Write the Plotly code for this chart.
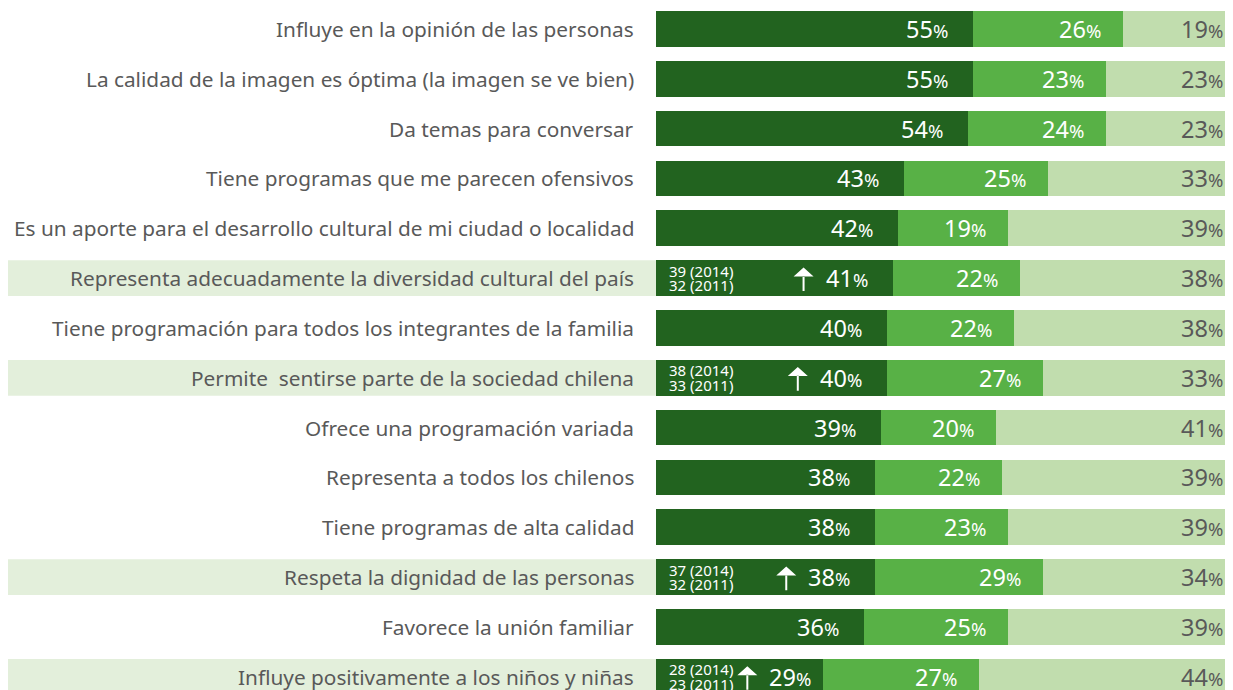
import plotly.graph_objects as go

labels = [
    "Influye en la opinión de las personas",
    "La calidad de la imagen es óptima (la imagen se ve bien)",
    "Da temas para conversar",
    "Tiene programas que me parecen ofensivos",
    "Es un aporte para el desarrollo cultural de mi ciudad o localidad",
    "Representa adecuadamente la diversidad cultural del país",
    "Tiene programación para todos los integrantes de la familia",
    "Permite  sentirse parte de la sociedad chilena",
    "Ofrece una programación variada",
    "Representa a todos los chilenos",
    "Tiene programas de alta calidad",
    "Respeta la dignidad de las personas",
    "Favorece la unión familiar",
    "Influye positivamente a los niños y niñas",
]
dark = [55, 55, 54, 43, 42, 41, 40, 40, 39, 38, 38, 38, 36, 29]
mid = [26, 23, 24, 25, 19, 22, 22, 27, 20, 22, 23, 29, 25, 27]
light = [19, 23, 23, 33, 39, 38, 38, 33, 41, 39, 39, 34, 39, 44]
prev_2014 = [None, None, None, None, None, 39, None, 38, None, None, None, 37, None, 28]
prev_2011 = [None, None, None, None, None, 32, None, 33, None, None, None, 32, None, 23]

C_DARK = "#22631f"
C_MID = "#58b146"
C_LIGHT = "#c1ddae"
C_BAND = "#e3efdb"
C_TEXT = "#595959"
FONT = "Noto Sans"

rows = list(range(len(labels)))
# light segment fills the rest of the row
rest = [100 - d - m for d, m in zip(dark, mid)]

fig = go.Figure()
for vals, col in [(dark, C_DARK), (mid, C_MID), (rest, C_LIGHT)]:
    fig.add_trace(go.Bar(y=rows, x=vals, orientation="h", marker=dict(color=col, line_width=0),
                         width=0.716, hoverinfo="skip", showlegend=False))


def pct(v):
    return f"{v}<span style='font-size:18.5px'>%</span>"


ann = []
shapes = []
for i in rows:
    d, m, l = dark[i], mid[i], light[i]
    # category label, left of the bars
    ann.append(dict(xref="paper", x=0, y=i, text=labels[i], xanchor="right", xshift=-20, showarrow=False,
                    font=dict(color=C_TEXT, size=20.8, family=FONT)))
    pad = 23 if d >= 35 else 10
    ann.append(dict(x=d, y=i, text=pct(d), xanchor="right", xshift=-pad, showarrow=False,
                    font=dict(color="white", size=23.5, family=FONT)))
    ann.append(dict(x=d + m, y=i, text=pct(m), xanchor="right", xshift=-20, showarrow=False,
                    font=dict(color="white", size=23.5, family=FONT)))
    ann.append(dict(x=100, y=i, text=pct(l), xanchor="right", xshift=-8, showarrow=False,
                    font=dict(color=C_TEXT, size=23.5, family=FONT)))
    if prev_2014[i] is not None:
        shapes.append(dict(type="rect", xref="paper", yref="y", x0=-648 / 577, x1=0,
                           y0=i - 0.358, y1=i + 0.358, fillcolor=C_BAND, line_width=0, layer="below"))
        ann.append(dict(x=0, y=i, text=f"{prev_2014[i]} (2014)", xanchor="left", xshift=11, yshift=7.5,
                        showarrow=False, font=dict(color="white", size=15, family=FONT)))
        ann.append(dict(x=0, y=i, text=f"{prev_2011[i]} (2011)", xanchor="left", xshift=11, yshift=-7,
                        showarrow=False, font=dict(color="white", size=15, family=FONT)))
        # up arrow before the percentage (pixel-sized path anchored on the bar end)
        c = -pad - 66
        path = (f"M{c - 10},1.7 L{c},10.7 L{c + 10},1.7 Z "
                f"M{c - 1},2 L{c + 1},2 L{c + 1},-13 L{c - 1},-13 Z")
        shapes.append(dict(type="path", xref="x", yref="y", xsizemode="pixel", ysizemode="pixel",
                           xanchor=d, yanchor=i, path=path, fillcolor="white", line_width=0))

fig.update_layout(
    width=1225, height=682,
    margin=dict(l=648, r=0, t=0, b=0),
    barmode="stack",
    plot_bgcolor="white", paper_bgcolor="white",
    xaxis=dict(range=[0, 100], visible=False),
    yaxis=dict(range=[13.264, -0.419], visible=False),
    annotations=ann,
    shapes=shapes,
)

fig.write_html("out.html")
